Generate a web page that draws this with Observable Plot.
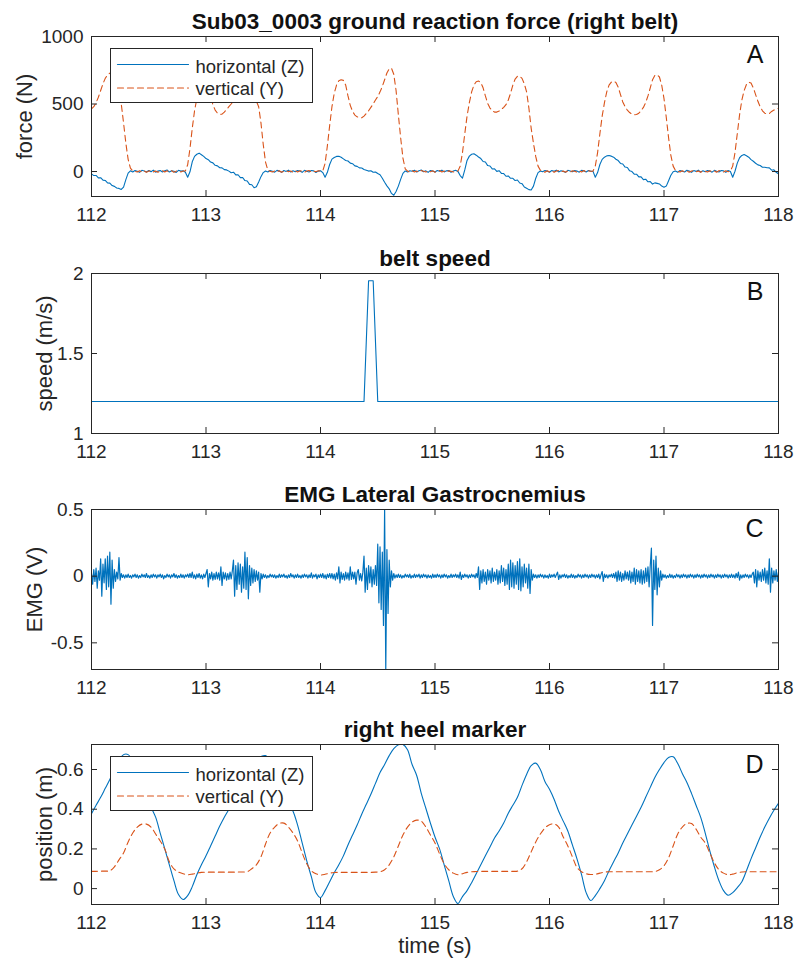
<!DOCTYPE html>
<html><head><meta charset="utf-8">
<script src="https://cdn.jsdelivr.net/npm/d3@7"></script>
<script src="https://cdn.jsdelivr.net/npm/@observablehq/plot@0.6"></script>
<style>html,body{margin:0;padding:0;background:#fff;} #chart svg{display:block;}</style>
</head><body><div id="chart"></div>
<script>
// ---------- DATA ----------
const xTicks = [112, 113, 114, 115, 116, 117, 118];
const forceTicks = [0, 500, 1000];
const speedTicks = [1, 1.5, 2];
const emgTicks = [-0.5, 0, 0.5];
const heelTicks = [0, 0.2, 0.4, 0.6];

const forceStart = 112, forceStep = 0.02;
// horizontal (Z) ground reaction force, N
const forceZ = [
  -17, -30, -29, -47, -46, -64, -66, -84, -86, -104,
  -110, -122, -125, -133, -115, -60, -12, 5, -3, 8,
  2, -6, 9, 4, -4, 7, -2, 10, -5, 3,
  8, -3, 5, 11, -4, 6, 2, -7, 9, 3,
  6, -5, -42, -2, 72, 112, 128, 136, 124, 112,
  96, 88, 70, 64, 46, 42, 28, 27, 14, 12,
  3, -9, -5, -25, -24, -45, -44, -67, -70, -95,
  -98, -120, -112, -78, -38, -8, 4, -3, 7, 2,
  -5, 9, 3, -6, 8, 1, 10, -4, 6, -2,
  7, 4, -6, 9, 2, -3, 8, 5, -7, 3,
  6, -8, -42, -6, 52, 92, 104, 112, 113, 106,
  94, 82, 78, 62, 58, 42, 38, 27, 26, 15,
  10, 3, 6, -5, -3, -15, -24, -50, -80, -106,
  -128, -162, -176, -148, -108, -58, -14, 4, -3, 6,
  2, 9, -4, 6, 11, -2, 5, -6, 8, 3,
  -4, 7, 2, 10, -3, 5, 8, -5, 4, 9,
  1, -30, -49, 12, 82, 114, 128, 131, 121, 108,
  96, 74, 70, 44, 41, 19, 20, 1, 6, -14,
  -15, -35, -33, -50, -50, -67, -63, -85, -90, -115,
  -124, -134, -137, -108, -50, -8, 4, -2, 7, 3,
  -5, 8, 2, 10, -3, 6, 1, -6, 9, 4,
  -2, 7, 3, -5, 9, 5, -4, 8, 2, 1,
  -42, -8, 52, 90, 106, 116, 119, 114, 106, 91,
  81, 60, 56, 33, 30, 5, 0, -20, -20, -40,
  -40, -60, -57, -76, -74, -93, -84, -88, -92, -108,
  -116, -108, -68, -28, -2, 4, -5, 8, 2, -3,
  9, 4, -6, 7, 1, 10, -4, 6, -2, 8,
  3, -5, 9, 2, -3, 7, 5, -6, 8, 0,
  -42, 2, 62, 102, 119, 126, 117, 106, 88, 76,
  61, 49, 45, 32, 32, 28, 27, 10, 13, -6,
  -17
];
// vertical (Y) ground reaction force, N
const forceY = [
  464, 480, 510, 550, 600, 650, 690, 715, 728, 740,
  735, 700, 610, 500, 360, 210, 90, 25, 5, 2,
  -4, 6, -2, 5, -6, 3, 8, -3, 4, -5,
  2, 7, -4, 5, -2, 6, -6, 3, 5, -3,
  4, 5, 50, 170, 320, 450, 540, 610, 655, 678,
  680, 640, 560, 495, 455, 432, 424, 425, 440, 460,
  480, 500, 520, 560, 620, 670, 700, 715, 718, 700,
  650, 580, 520, 480, 360, 200, 70, 10, 2, -4,
  5, -3, 6, -5, 3, 7, -2, 4, -6, 5,
  -3, 6, 2, -5, 4, 7, -4, 3, -2, 5,
  3, 5, 60, 190, 340, 480, 580, 640, 672, 680,
  675, 640, 560, 490, 445, 418, 405, 398, 398, 410,
  430, 450, 475, 500, 530, 555, 590, 630, 680, 730,
  760, 765, 720, 600, 420, 250, 100, 20, 3, -5,
  6, -3, 4, -6, 7, 2, -4, 5, -2, 6,
  -5, 3, 7, -3, 4, -6, 5, 2, -4, 6,
  3, 40, 140, 280, 410, 510, 590, 640, 665, 670,
  660, 620, 560, 505, 470, 450, 440, 440, 448, 460,
  475, 495, 530, 580, 640, 685, 705, 706, 690, 650,
  590, 470, 320, 210, 110, 40, 10, 2, -5, 6,
  -3, 5, -6, 4, 7, -2, 3, -5, 6, -4,
  5, 2, -6, 4, -3, 7, -4, 5, 2, 3,
  40, 140, 280, 410, 510, 590, 640, 662, 669, 660,
  625, 570, 515, 480, 455, 437, 425, 420, 422, 432,
  450, 475, 510, 560, 620, 680, 712, 716, 700, 640,
  540, 400, 250, 120, 40, 8, 2, -4, 6, -3,
  5, -5, 3, 7, -2, 4, -6, 5, 2, -4,
  6, -3, 4, -5, 7, 2, -4, 5, -2, 3,
  40, 140, 280, 420, 530, 600, 645, 662, 655, 620,
  570, 520, 480, 450, 432, 427, 430, 445, 455, 460,
  469
];

// belt speed, m/s
const speedTime = [112, 114.38, 114.42, 114.46, 114.50, 118];
const speedValue = [1.2, 1.2, 1.955, 1.955, 1.2, 1.2];

const emgStart = 112, emgStep = 0.01;
// EMG lateral gastrocnemius, V
const emg = [
  .02,-.06,.05,-.04,.06,-.09,.04,-.03,.13,-.15,
  .09,-.05,.13,-.1,.15,-.08,.18,-.21,.12,-.09,
  .05,-.04,.03,-.02,.14,-.03,.02,-.01,.01,-.015,
  .01,-.01,.015,-.01,.005,-.015,.01,-.005,.015,-.01,
  .01,-.015,.005,-.01,.015,-.005,.01,-.01,.02,-.01,
  .005,-.015,.01,-.01,.015,-.005,.01,-.015,.01,-.005,
  .015,-.01,.01,-.02,.005,-.01,.015,-.005,.01,-.015,
  .01,-.005,.02,-.01,.01,-.015,.005,-.01,.015,-.01,
  .01,-.015,.01,-.005,.015,-.01,.02,-.01,.03,-.015,
  .01,-.02,.015,-.01,.02,-.015,.01,-.02,.015,-.01,
  .02,.05,-.08,.02,-.02,.03,-.03,.02,-.025,.03,
  -.02,.025,-.03,.07,-.07,.03,-.02,.025,-.03,.02,
  -.025,.03,-.02,.04,.12,-.15,.08,-.1,.1,-.06,
  .09,-.12,.07,-.09,.18,-.1,.14,-.17,.08,-.07,
  .06,-.05,.05,-.04,.04,-.03,.03,-.12,.02,-.02,
  .015,-.01,.01,-.015,.005,-.01,.015,-.005,.01,-.01,
  .01,-.015,.005,-.01,.015,-.01,.01,-.005,.015,-.01,
  .005,-.015,.01,-.01,.02,-.005,.01,-.015,.01,-.01,
  .015,-.01,.005,-.015,.01,-.01,.015,-.005,.01,-.015,
  .01,-.01,.025,-.015,.01,-.005,.015,-.02,.01,-.01,
  .015,-.01,.02,-.015,.01,-.02,.015,-.01,.02,-.015,
  .02,-.02,.015,-.03,.025,-.02,.07,-.05,.03,-.025,
  .02,-.03,.03,-.02,.025,-.03,.07,-.025,.03,-.02,
  .03,-.06,.025,.05,-.03,.02,-.035,.03,.15,-.12,
  .06,-.1,.08,-.05,.07,-.08,.05,-.06,.08,-.07,
  .24,-.2,.22,-.25,.18,-.37,.5,-.7,.2,-.28,
  .12,-.08,.04,-.03,.02,-.015,.01,-.01,.015,-.01,
  .01,-.015,.005,-.01,.015,-.005,.01,-.01,.015,-.015,
  .005,-.01,.015,-.01,.01,-.005,.015,-.015,.01,-.01,
  .015,-.005,.01,-.015,.01,-.01,.005,-.015,.015,-.01,
  .01,-.01,.015,-.005,.01,-.015,.01,-.01,.015,-.005,
  .01,-.015,.005,-.01,.015,-.01,.01,-.005,.015,-.01,
  .01,-.015,.03,-.025,.01,-.01,.015,-.005,.01,-.015,
  .01,-.01,.015,-.005,.01,-.015,.02,-.01,.07,-.1,
  .04,-.05,.05,-.04,.03,-.06,.05,-.03,.04,-.05,
  .06,-.04,.03,-.03,.05,-.06,.04,-.05,.08,-.04,
  .06,-.07,.05,-.06,.09,-.1,.12,-.08,.1,-.09,
  .08,-.06,.11,-.1,.13,-.11,.07,-.08,.09,-.05,
  .06,-.09,.09,-.13,.05,-.03,.015,-.01,.01,-.015,
  .01,-.01,.015,-.005,.01,-.015,.01,-.01,.005,-.015,
  .015,-.01,.01,-.005,.015,-.01,.01,.03,-.025,.01,
  -.015,.01,-.005,.015,-.01,.01,-.015,.005,-.01,.015,
  -.01,.01,-.015,.005,-.01,.015,-.005,.01,-.015,.01,
  -.01,.015,-.005,.01,-.015,.01,-.01,.015,-.005,.01,
  -.015,.01,-.01,.015,-.02,.01,.035,-.04,.015,-.01,
  .01,-.015,.01,-.005,.015,-.01,.02,-.015,.03,-.04,
  .04,-.03,.03,-.04,.02,-.03,.04,-.02,.03,-.03,
  .04,-.05,.03,-.04,.06,-.06,.05,-.04,.04,-.05,
  .05,-.06,.04,-.05,.06,-.04,.07,-.08,.08,.21,
  -.37,.12,-.1,.15,-.14,.06,-.08,.04,-.03,.015,
  -.01,.01,-.015,.005,-.01,.015,-.01,.01,-.015,.005,
  -.01,.015,-.005,.01,-.015,.01,-.01,.015,-.005,.01,
  -.015,.01,-.01,.015,-.005,.01,-.015,.01,-.01,.015,
  -.005,.01,-.015,.01,-.01,.015,-.005,.01,-.015,.01,
  -.01,.015,-.005,.01,-.015,.01,-.01,.015,-.005,.01,
  -.015,.01,-.01,.015,-.005,.01,-.015,.01,-.01,.015,
  -.01,.01,-.015,.02,-.01,.03,-.03,.01,-.015,.01,
  -.01,.015,-.005,.01,-.015,.01,-.01,.015,.03,-.05,
  .05,-.08,.04,-.03,.03,-.04,.05,-.03,.06,-.05,
  .04,-.06,.13,-.12,.06,-.05,.04,-.03,.05,-.04,
  .03
];

const heelStart = 112, heelStep = 0.04;
// right heel marker horizontal (Z) position, m
const heelZ = [
  0.377, 0.42, 0.46, 0.505, 0.55, 0.6, 0.645, 0.675, 0.675, 0.64,
  0.58, 0.52, 0.46, 0.41, 0.36, 0.28, 0.2, 0.12, 0.04, -0.03,
  -0.055, -0.035, 0.01, 0.07, 0.12, 0.165, 0.215, 0.265, 0.315, 0.36,
  0.40, 0.445, 0.49, 0.535, 0.575, 0.615, 0.645, 0.665, 0.67, 0.64,
  0.59, 0.54, 0.48, 0.43, 0.39, 0.32, 0.23, 0.14, 0.06, -0.02,
  -0.045, -0.01, 0.035, 0.08, 0.12, 0.165, 0.22, 0.27, 0.32, 0.375,
  0.425, 0.475, 0.53, 0.585, 0.625, 0.67, 0.705, 0.725, 0.726, 0.7,
  0.625, 0.57, 0.48, 0.405, 0.33, 0.26, 0.2, 0.12, 0.04, -0.04,
  -0.075, -0.04, -0.01, 0.03, 0.075, 0.12, 0.165, 0.21, 0.255, 0.29,
  0.33, 0.38, 0.42, 0.46, 0.52, 0.575, 0.62, 0.632, 0.6, 0.54,
  0.5, 0.45, 0.39, 0.34, 0.29, 0.22, 0.15, 0.07, -0.02, -0.06,
  -0.035, 0.0, 0.04, 0.09, 0.135, 0.18, 0.23, 0.275, 0.32, 0.365,
  0.41, 0.46, 0.51, 0.56, 0.6, 0.635, 0.66, 0.664, 0.63, 0.58,
  0.535, 0.48, 0.42, 0.36, 0.28, 0.19, 0.11, 0.04, -0.01, -0.033,
  -0.02, 0.005, 0.035, 0.09, 0.15, 0.205, 0.26, 0.31, 0.355, 0.395,
  0.43
];
// right heel marker vertical (Y) position, m
const heelY = [
  0.087, 0.087, 0.088, 0.088, 0.09, 0.11, 0.145, 0.18, 0.235, 0.28,
  0.31, 0.325, 0.325, 0.31, 0.275, 0.24, 0.2, 0.135, 0.1, 0.083,
  0.075, 0.07, 0.073, 0.078, 0.082, 0.083, 0.083, 0.083, 0.083, 0.083,
  0.083, 0.083, 0.084, 0.084, 0.085, 0.1, 0.12, 0.16, 0.225, 0.28,
  0.31, 0.328, 0.33, 0.31, 0.28, 0.24, 0.18, 0.125, 0.09, 0.075,
  0.069, 0.072, 0.078, 0.081, 0.082, 0.082, 0.082, 0.082, 0.082, 0.082,
  0.082, 0.082, 0.083, 0.085, 0.095, 0.12, 0.16, 0.215, 0.27, 0.31,
  0.335, 0.345, 0.34, 0.31, 0.27, 0.23, 0.175, 0.125, 0.095, 0.078,
  0.07, 0.075, 0.082, 0.085, 0.086, 0.087, 0.087, 0.087, 0.087, 0.087,
  0.087, 0.087, 0.087, 0.088, 0.1, 0.135, 0.185, 0.235, 0.275, 0.305,
  0.322, 0.326, 0.31, 0.26, 0.215, 0.16, 0.107, 0.085, 0.075, 0.071,
  0.072, 0.078, 0.083, 0.085, 0.085, 0.085, 0.085, 0.085, 0.085, 0.085,
  0.085, 0.085, 0.085, 0.086, 0.095, 0.115, 0.155, 0.215, 0.275, 0.31,
  0.328, 0.328, 0.3, 0.26, 0.23, 0.18, 0.13, 0.095, 0.078, 0.07,
  0.073, 0.08, 0.084, 0.085, 0.085, 0.085, 0.085, 0.085, 0.085, 0.085,
  0.085
];

// ---------- checks ----------
[["forceZ", forceZ, 301], ["forceY", forceY, 301], ["emg", emg, 601], ["heelZ", heelZ, 151], ["heelY", heelY, 151]]
  .forEach(([n, a, k]) => { if (a.length !== k) throw new Error(n + " length " + a.length + " != " + k); });

// ---------- tables ----------
const forceData = forceZ.map((z, i) => ({t: forceStart + i * forceStep, z, y: forceY[i]}));
const speedData = speedTime.map((t, i) => ({t, v: speedValue[i]}));
const emgData = emg.map((v, i) => ({t: emgStart + i * emgStep, v}));
const heelData = heelZ.map((z, i) => ({t: heelStart + i * heelStep, z, y: heelY[i]}));

// ---------- layout ----------
const W = 798, ML = 91, MR = 20, PH = 160, PW = W - ML - MR;
const ink = "#262626", blue = "#0072BD", red = "#D95319";
const FONT = "'Liberation Sans', Arial, Helvetica, sans-serif";
const fmt = d => String(d);

function panel(o) {
  const mb = o.height - o.top - PH;
  const marks = [
    Plot.axisX(xTicks, {anchor: "bottom", tickSize: 0, tickPadding: 11, tickFormat: fmt, label: null, fontSize: 19}),
    Plot.axisY(o.yTicks, {anchor: "left", tickSize: 0, tickPadding: 8, tickFormat: fmt, label: null, fontSize: 19}),
    ...o.marks,
    Plot.tickX(xTicks, {x: d => d, insetTop: PH - 6, stroke: ink}),
    Plot.tickX(xTicks, {x: d => d, insetBottom: PH - 6, stroke: ink}),
    Plot.tickY(o.yTicks, {y: d => d, insetRight: PW - 6, stroke: ink}),
    Plot.tickY(o.yTicks, {y: d => d, insetLeft: PW - 6, stroke: ink}),
    Plot.frame({stroke: ink, strokeWidth: 1}),
    Plot.text([o.title], {text: d => d, frameAnchor: "top", dy: -7.5, lineAnchor: "bottom", textAnchor: "middle", fontWeight: "bold", fontSize: 22.5, fill: "#111"}),
    Plot.text([o.ylabel], {text: d => d, frameAnchor: "left", dx: o.ylabelDx, rotate: -90, textAnchor: "middle", lineAnchor: "middle", fontSize: 22, fill: ink}),
    Plot.text([o.letter], {text: d => d, frameAnchor: "top-right", dx: -15, dy: o.letterDy, textAnchor: "end", lineAnchor: "middle", fontSize: 25, fill: "#111"})
  ];
  if (o.xlabel) marks.push(Plot.text([o.xlabel], {text: d => d, frameAnchor: "bottom", dy: 48, lineAnchor: "bottom", textAnchor: "middle", fontSize: 22, fill: ink}));
  return Plot.plot({
    width: W, height: o.height,
    marginLeft: ML, marginRight: MR, marginTop: o.top, marginBottom: mb,
    style: {fontFamily: FONT, fontSize: "19px", color: ink, background: "white", overflow: "visible"},
    x: {domain: [112, 118]},
    y: {domain: o.yDomain},
    marks
  });
}

const lineShape = {draw(ctx, l) { ctx.moveTo(0, 0); ctx.lineTo(0, -l); }};
function legend() {
  return [
    Plot.frame({insetLeft: 19, insetTop: 12, insetRight: PW - 221, insetBottom: PH - 66, stroke: ink, fill: "white"}),
    Plot.vector([0], {frameAnchor: "top-left", dx: 26, dy: 28, length: 71, rotate: 90, anchor: "start", shape: lineShape, stroke: blue, strokeWidth: 1.2}),
    Plot.vector([0], {frameAnchor: "top-left", dx: 26, dy: 51.5, length: 71, rotate: 90, anchor: "start", shape: lineShape, stroke: red, strokeWidth: 1.2, strokeDasharray: "6,4"}),
    Plot.text(["horizontal (Z)"], {text: d => d, frameAnchor: "top-left", dx: 104, dy: 30.3, textAnchor: "start", lineAnchor: "middle", fontSize: 18.5, fill: ink}),
    Plot.text(["vertical (Y)"], {text: d => d, frameAnchor: "top-left", dx: 104, dy: 52.8, textAnchor: "start", lineAnchor: "middle", fontSize: 18.5, fill: ink})
  ];
}

const root = document.getElementById("chart");

root.append(panel({
  height: 236, top: 36, yDomain: [-185, 1000], yTicks: forceTicks,
  title: "Sub03_0003 ground reaction force (right belt)", ylabel: "force (N)", ylabelDx: -67,
  letter: "A", letterDy: 18,
  marks: [
    Plot.line(forceData, {x: "t", y: "z", stroke: blue, strokeWidth: 1.1, clip: true}),
    Plot.line(forceData, {x: "t", y: "y", stroke: red, strokeWidth: 1.1, strokeDasharray: "6,4", clip: true}),
    ...legend()
  ]
}));

root.append(panel({
  height: 236, top: 37, yDomain: [1, 2], yTicks: speedTicks,
  title: "belt speed", ylabel: "speed (m/s)", ylabelDx: -47,
  letter: "B", letterDy: 18,
  marks: [
    Plot.line(speedData, {x: "t", y: "v", stroke: blue, strokeWidth: 1.1, clip: true})
  ]
}));

root.append(panel({
  height: 236, top: 37, yDomain: [-0.7, 0.5], yTicks: emgTicks,
  title: "EMG Lateral Gastrocnemius", ylabel: "EMG (V)", ylabelDx: -57,
  letter: "C", letterDy: 19,
  marks: [
    Plot.line(emgData, {x: "t", y: "v", stroke: blue, strokeWidth: 1.2, clip: true})
  ]
}));

root.append(panel({
  height: 254, top: 36, yDomain: [-0.08, 0.726], yTicks: heelTicks,
  title: "right heel marker", ylabel: "position (m)", ylabelDx: -47,
  letter: "D", letterDy: 20, xlabel: "time (s)",
  marks: [
    Plot.line(heelData, {x: "t", y: "z", stroke: blue, strokeWidth: 1.1, curve: "catmull-rom", clip: true}),
    Plot.line(heelData, {x: "t", y: "y", stroke: red, strokeWidth: 1.1, strokeDasharray: "6,4", curve: "catmull-rom", clip: true}),
    ...legend()
  ]
}));
</script></body></html>
